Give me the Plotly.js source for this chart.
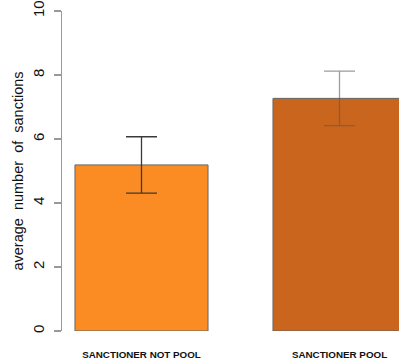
<!DOCTYPE html>
<html>
<head>
<meta charset="utf-8">
<script src="https://cdn.plot.ly/plotly-3.0.1.min.js"></script>
<style>html,body{margin:0;padding:0;background:#fff;}#chart{width:399px;height:363px;}</style>
</head>
<body>
<div id="chart"></div>
<script>
const categories = ["SANCTIONER NOT POOL", "SANCTIONER POOL"];
const means = [5.19, 7.27];
const errors = [0.88, 0.85];
const barColors = ["#FB8C23", "#C9651D"];
const errColors = ["#3a3a3a", "rgba(90,90,90,0.6)"];
const yTicks = [0, 2, 4, 6, 8, 10];
const yTitle = "average\u00a0 number\u00a0 of\u00a0 sanctions";

const traces = categories.map((c, i) => ({
  type: "bar",
  x: [i],
  y: [means[i]],
  width: 0.672,
  marker: {color: barColors[i], line: {color: "#666666", width: 1}},
  error_y: {type: "data", array: [errors[i]], visible: true, color: errColors[i], thickness: 1.3, width: 15.5},
  hoverinfo: "skip",
  showlegend: false
}));

const layout = {
  width: 399, height: 363,
  margin: {l: 62, r: 0, t: 11, b: 32, pad: 0},
  paper_bgcolor: "#fff", plot_bgcolor: "#fff",
  font: {family: "Liberation Sans, Arial, sans-serif", color: "#000"},
  xaxis: {
    range: [-0.4015, 1.3005],
    tickvals: [0, 1],
    ticktext: categories,
    ticks: "", showline: false, showgrid: false, zeroline: false,
    tickfont: {size: 9.8, family: "Liberation Sans, Arial, sans-serif", weight: "bold", color: "#111"},
    ticklabelstandoff: 16
  },
  yaxis: {
    range: [0, 10],
    tickvals: yTicks,
    ticktext: yTicks.map(String),
    tickangle: -90,
    ticks: "outside", ticklen: 7, tickcolor: "#999", tickwidth: 1.3,
    showline: true, linecolor: "#999", linewidth: 1.3,
    showgrid: false, zeroline: false,
    tickfont: {size: 15, color: "#111"},
    ticklabelstandoff: 4,
    title: {text: yTitle, font: {size: 14.5, color: "#111"}, standoff: 2}
  },
  bargap: 0
};
Plotly.newPlot("chart", traces, layout, {displayModeBar: false, staticPlot: true});
</script>
</body>
</html>
